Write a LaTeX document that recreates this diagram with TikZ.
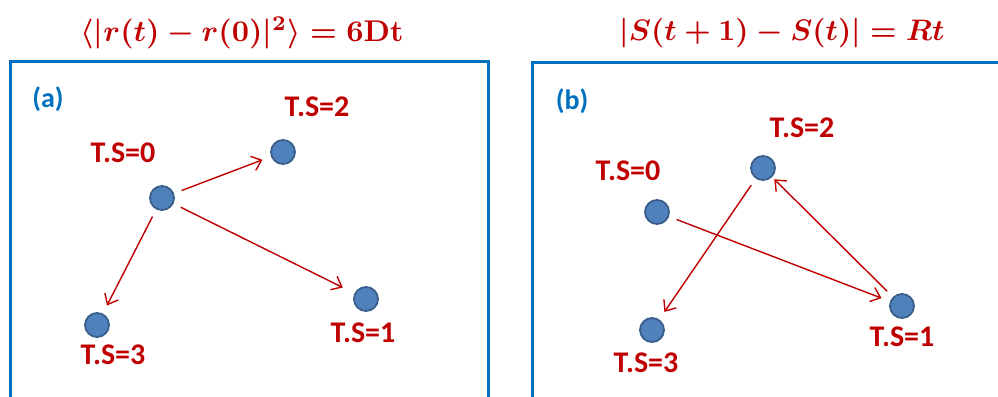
\RequirePackage{fix-cm}
\documentclass[tikz,border=0pt]{standalone}
\usepackage{fontspec}
\usepackage{graphicx}
\setmainfont{Carlito}
\usetikzlibrary{arrows.meta}
\definecolor{dred}{HTML}{C00000}
\definecolor{bfill}{HTML}{4F81BD}
\definecolor{bline}{HTML}{385D8A}
\definecolor{boxblue}{HTML}{0070C0}
\tikzset{
  dot/.style={circle,fill=bfill,draw=bline,line width=1.8pt,minimum size=24pt,inner sep=0pt},
  tslabel/.style={text=dred,font=\fontsize{30}{32}\selectfont\bfseries,inner sep=0pt},
  panel/.style={text=boxblue,font=\fontsize{28}{30}\selectfont\bfseries,inner sep=0pt},
  title/.style={text=dred,font=\bfseries\boldmath,inner sep=0pt},
  frame/.style={draw=boxblue,line width=3pt},
  move/.style={draw=dred,line width=1.4pt,-{Straight Barb[length=9pt,width=15pt,line width=1.4pt]},shorten <=8pt,shorten >=9pt}
}
\begin{document}
\begin{tikzpicture}[x=1pt,y=-1pt]
\useasboundingbox (0,0) rectangle (998,396);
\clip (0,0) rectangle (998,396);
% titles
\node[title] (t1) at (242,33) {\resizebox{323pt}{!}{\boldmath$\langle|r(t)-r(0)|^{2}\rangle=\mathbf{6Dt}$}};
\node[title] (t2) at (782,33) {\resizebox{325pt}{!}{\boldmath$|S(t+1)-S(t)|=Rt$}};
% frames
\draw[frame] (10,420) -- (10,62) -- (488,62) -- (488,420);
\draw[frame] (532,420) -- (532,63) -- (1020,63) -- (1020,420);
\node[panel] (pa) at (48,99) {(a)};
\node[panel] (pb) at (572,101) {(b)};
% left panel
\node[dot] (a0) at (162,198) {};
\node[dot] (a2) at (283,152) {};
\node[dot] (a1) at (366,299) {};
\node[dot] (a3) at (97,325) {};
\node[tslabel] (la0) at (123,153) {T.S=0};
\node[tslabel] (la2) at (317,107) {T.S=2};
\node[tslabel] (la1) at (363,333) {T.S=1};
\node[tslabel] (la3) at (113,355) {T.S=3};
\draw[move] (a0) -- (a2);
\draw[move,shorten >=13pt] (a0) -- (a1);
\draw[move] (a0) -- (a3);
% right panel
\node[dot] (b0) at (657,212) {};
\node[dot] (b2) at (763,168) {};
\node[dot] (b1) at (902,306) {};
\node[dot] (b3) at (652,330) {};
\node[tslabel] (lb0) at (628,171) {T.S=0};
\node[tslabel] (lb2) at (802,128) {T.S=2};
\node[tslabel] (lb1) at (902,337) {T.S=1};
\node[tslabel] (lb3) at (646,363) {T.S=3};
\draw[move] (b0) -- (b1);
\draw[move,shorten >=3pt] (b1) -- (b2);
\draw[move] (b2) -- (b3);
\end{tikzpicture}
\end{document}
